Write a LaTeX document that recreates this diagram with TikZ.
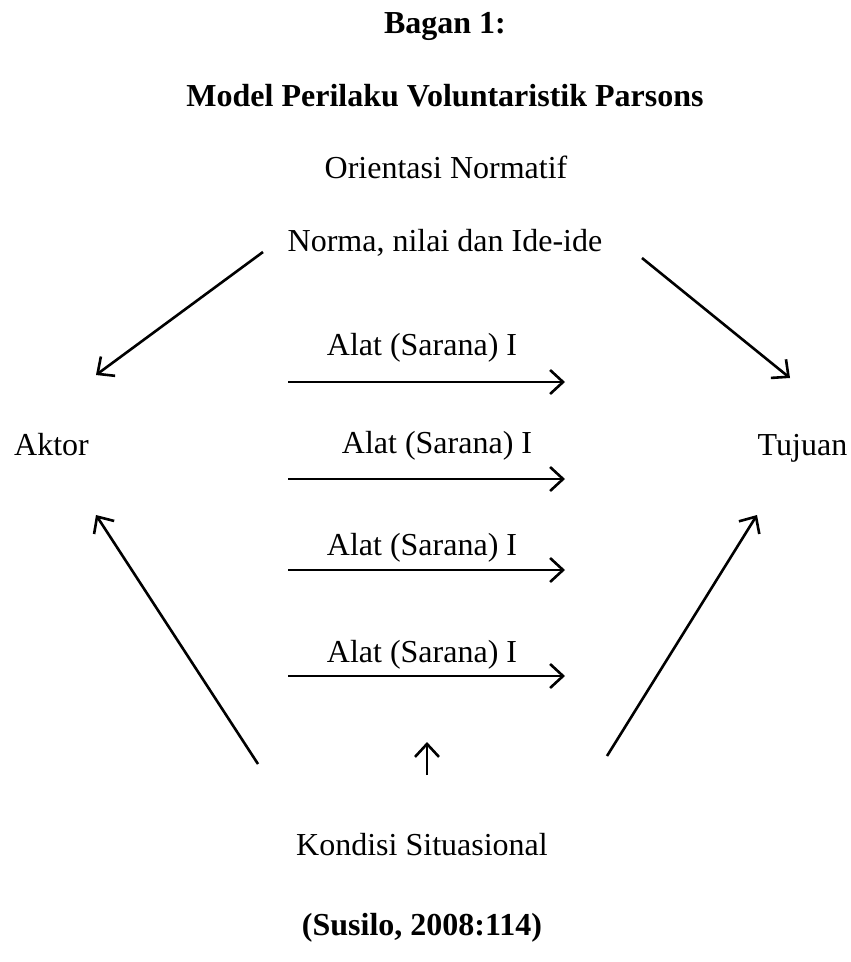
\documentclass[tikz,border=0pt]{standalone}
\usepackage{fontspec}
\setmainfont{Liberation Serif}
\usetikzlibrary{arrows.meta}
\begin{document}
\begin{tikzpicture}[x=1pt,y=-1pt,
  txt/.style={anchor=base,inner sep=0pt,font=\fontsize{32}{38}\selectfont},
  btxt/.style={txt,font=\fontsize{32}{38}\selectfont\bfseries},
  arr/.style={line width=2.6pt,-{Straight Barb[length=13pt,width=24pt,line width=2.6pt]}}]
\useasboundingbox (0,0) rectangle (851,962);
\node[btxt] (bagan) at (445,33) {Bagan 1:};
\node[btxt] (model) at (445,106) {Model Perilaku Voluntaristik Parsons};
\node[txt] (orient) at (446,178) {Orientasi Normatif};
\node[txt] (norma) at (445,251) {Norma, nilai dan Ide-ide};
\node[txt] (alat1) at (422,355) {Alat (Sarana) I};
\node[txt] (alat2) at (437,453) {Alat (Sarana) I};
\node[txt] (alat3) at (422,555) {Alat (Sarana) I};
\node[txt] (alat4) at (422,662) {Alat (Sarana) I};
\node[txt] (aktor) at (51.5,455) {Aktor};
\node[txt] (tujuan) at (802.5,455) {Tujuan};
\node[txt] (kondisi) at (422,855) {Kondisi Situasional};
\node[btxt] (susilo) at (422,935) {(Susilo, 2008:114)};
% endpoints
\coordinate (tl1) at (263,252); \coordinate (tl2) at (96,375);
\coordinate (tr1) at (642,258); \coordinate (tr2) at (790,378);
\coordinate (bl1) at (258,764); \coordinate (bl2) at (96,515);
\coordinate (br1) at (607,756); \coordinate (br2) at (757,515);
\coordinate (u1) at (427,775); \coordinate (u2) at (427,742);
\coordinate (a1s) at (288,382); \coordinate (a1e) at (565,382);
\coordinate (a2s) at (288,479); \coordinate (a2e) at (565,479);
\coordinate (a3s) at (288,570); \coordinate (a3e) at (565,570);
\coordinate (a4s) at (288,676); \coordinate (a4e) at (565,676);
\draw[arr] (tl1) -- (tl2);
\draw[arr] (tr1) -- (tr2);
\draw[arr] (bl1) -- (bl2);
\draw[arr] (br1) -- (br2);
\draw[arr] (u1) -- (u2);
\draw[arr] (a1s) -- (a1e);
\draw[arr] (a2s) -- (a2e);
\draw[arr] (a3s) -- (a3e);
\draw[arr] (a4s) -- (a4e);
\end{tikzpicture}
\end{document}
